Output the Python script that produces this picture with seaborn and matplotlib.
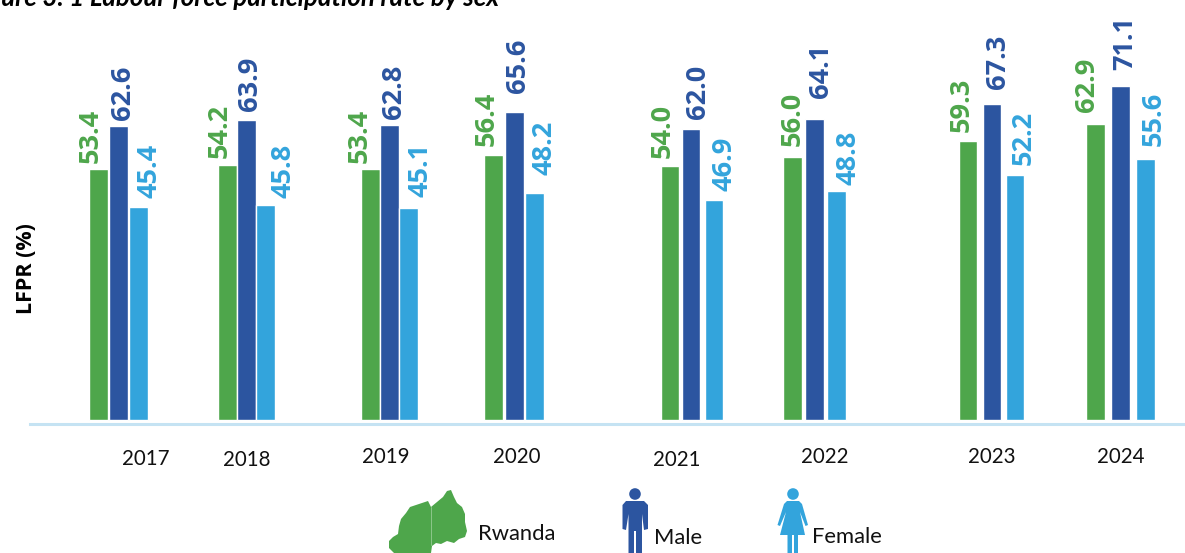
import matplotlib
matplotlib.use("Agg")
import matplotlib.pyplot as plt
from matplotlib.patches import Circle, Polygon
import pandas as pd
import seaborn as sns

# ---- data ----
years = ["2017", "2018", "2019", "2020", "2021", "2022", "2023", "2024"]
rwanda = [53.4, 54.2, 53.4, 56.4, 54.0, 56.0, 59.3, 62.9]
male = [62.6, 63.9, 62.8, 65.6, 62.0, 64.1, 67.3, 71.1]
female = [45.4, 45.8, 45.1, 48.2, 46.9, 48.8, 52.2, 55.6]

# ---- layout (irregular spacing of the source, in pixels) ----
pos_r = [98.5, 227.5, 370.5, 493.5, 670, 792.5, 968, 1095.5]
pos_m = [118.5, 246.5, 389.5, 514.5, 691, 814.5, 992, 1120.5]
pos_f = [138.5, 265.5, 408.5, 534.5, 714, 836.5, 1015, 1145.5]
lab_x_r = [90.5, 219.5, 360, 486.5, 662.5, 793, 961.5, 1087]
lab_x_m = [123, 250.5, 394.5, 518.5, 698, 821, 998.5, 1125]
lab_x_f = [149.5, 283.5, 421, 544, 725, 848.5, 1023.5, 1154]
lab_gap_r = [6, 7, 6, 9, 8, 11, 9, 12]
lab_gap_m = [6, 9, 6, 19, 10, 21, 15, 16]
lab_gap_f = [9, 7, 11, 18, 9, 6, 10, 13]
tick_x = [146, 247, 386, 517, 677, 825, 992, 1121]
tick_pad_px = [25, 26, 23, 23, 26, 23, 23, 23]

GREEN, BLUE, LIGHT, AXIS = "#4EA64B", "#2C55A0", "#33A4DC", "#C5E3F3"
W, H, PX = 1185, 553, 4.7

sns.set_theme(style="white")
plt.rcParams["font.family"] = ["Lato", "DejaVu Sans"]
fig = plt.figure(figsize=(W / 100, H / 100), dpi=100)
ax = fig.add_axes([30 / W, 1 - 424 / H, (W - 30) / W, 424 / H])

df = pd.DataFrame({
    "pos": pos_r + pos_m + pos_f,
    "value": rwanda + male + female,
    "series": ["Rwanda"] * 8 + ["Male"] * 8 + ["Female"] * 8,
})
min_gap = df["pos"].sort_values().diff().min()
sns.barplot(data=df, x="pos", y="value", hue="series", dodge=False, native_scale=True,
            palette={"Rwanda": GREEN, "Male": BLUE, "Female": LIGHT},
            width=18.3 / min_gap, errorbar=None, legend=False, ax=ax, saturation=1)
ax.set_xlim(30, W)
ax.set_ylim(-4 / PX, 420 / PX)
ax.set_yticks([])
ax.set_xlabel("")
ax.set_ylabel("")
for s in ["top", "left", "right"]:
    ax.spines[s].set_visible(False)
ax.spines["bottom"].set_color(AXIS)
ax.spines["bottom"].set_linewidth(2.2)

ax.set_xticks(tick_x, years)
ax.tick_params(axis="x", length=0, labelsize=14.8, labelcolor="#111111")
for tick, pad in zip(ax.xaxis.get_major_ticks(), tick_pad_px):
    tick.set_pad(pad * 0.72)

for vals, lab_x, gaps, col in [
    (rwanda, lab_x_r, lab_gap_r, GREEN),
    (male, lab_x_m, lab_gap_m, BLUE),
    (female, lab_x_f, lab_gap_f, LIGHT),
]:
    for v, lx, g in zip(vals, lab_x, gaps):
        ax.annotate(f"{v:.1f}", xy=(lx, v), xytext=(0, g), textcoords="offset pixels",
                    rotation=90, ha="center", va="bottom", color=col,
                    fontsize=19.5, fontweight="bold", family="Open Sans", annotation_clip=False)

# overlay in pixel coordinates: title, axis label, icon legend
ov = fig.add_axes([0, 0, 1, 1], facecolor="none")
ov.set_xlim(0, W)
ov.set_ylim(H, 0)
ov.axis("off")
ov.text(499, 5.5, "Figure 3. 1 Labour force participation rate by sex", ha="right", va="baseline",
        fontsize=18.6, fontweight="bold", fontstyle="italic", color="black", clip_on=False)
ov.text(26, 269, "LFPR (%)", rotation=90, ha="center", va="center",
        fontsize=15.5, fontweight="bold", family="Open Sans", color="black")

rw_shape = [(389, 541), (393, 537), (398, 534), (399, 526), (401, 519), (406, 513), (410, 507), (416, 505),
            (422, 503), (428, 501), (431, 507), (437, 502), (443, 497), (447, 491), (451, 490), (454, 497),
            (457, 503), (462, 507), (465, 514), (465, 522), (467, 531), (465, 537), (459, 539), (454, 543),
            (447, 541), (441, 544), (436, 543), (432, 546), (431, 553), (394, 553), (389, 548)]
ov.add_patch(Polygon(rw_shape, closed=True, fc=GREEN, ec="none"))
ov.plot([431, 431], [507, 545], color="#8CC68A", lw=0.7)

ov.add_patch(Circle((635, 494), 5.8, fc=BLUE, ec="none"))
ov.add_patch(Polygon([(622.5, 505), (626, 501), (644, 501), (648, 505), (648, 529), (644, 530),
                      (642, 514), (642, 553), (636, 553), (636, 531), (634, 531), (634, 553),
                      (628.5, 553), (628.5, 514), (626, 530), (622.5, 529)],
                     closed=True, fc=BLUE, ec="none"))

ov.add_patch(Circle((793, 494), 5.8, fc=LIGHT, ec="none"))
ov.add_patch(Polygon([(784, 504), (787, 501), (799, 501), (802, 504), (808, 525), (805.5, 526),
                      (800, 512), (805, 535), (798, 535), (798, 553), (794, 553), (794, 535),
                      (792, 535), (792, 553), (787.5, 553), (787.5, 535), (780, 535), (786, 512),
                      (780, 526), (777.5, 525)],
                     closed=True, fc=LIGHT, ec="none"))

for x, y, t in [(478, 534, "Rwanda"), (654, 538, "Male"), (812, 537, "Female")]:
    ov.text(x, y, t, ha="left", va="center", fontsize=15.8, color="#111111")

fig.savefig("out.png", dpi=100)
